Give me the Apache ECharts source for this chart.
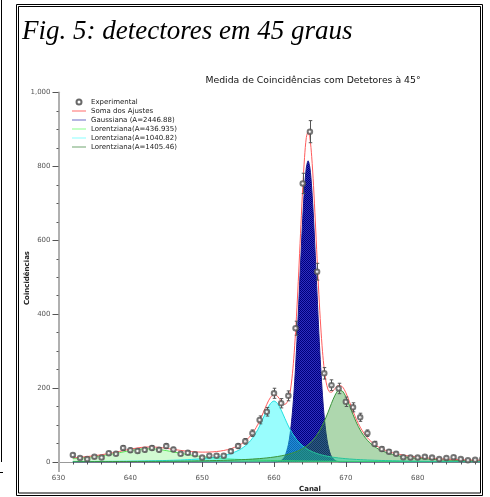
<!DOCTYPE html>
<html><head><meta charset="utf-8">
<script src="https://cdn.jsdelivr.net/npm/echarts@6/dist/echarts.min.js"></script>
<style>html,body{margin:0;padding:0;background:#fff}#c{width:490px;height:497px}</style>
</head><body><div id="c"></div>
<script>
// ---- Experimental data (canal, contagens, erro) ----
const channels = [632,633,634,635,636,637,638,639,640,641,642,643,644,645,646,647,648,649,650,651,652,653,654,655,656,657,658,659,660,661,662,663,664,665,666,667,668,669,670,671,672,673,674,675,676,677,678,679,680,681,682,683,684,685,686,687,688,689];
const counts = [19,11,8,14,12,24,22,38,32,30,33,38,33,43,34,22,25,21,12,17,17,17,29,43,56,78,114,136,186,159,179,362,754,894,515,240,208,199,163,148,121,78,49,35,28,22,13,12,12,14,12,8,11,13,8,5,6,8];
const countErr = [4.4,3.3,2.8,3.7,3.5,4.9,4.7,6.2,5.7,5.5,5.7,6.2,5.7,6.6,5.8,4.7,5,4.6,3.5,4.1,4.1,4.1,5.4,6.6,7.5,8.8,10.7,11.7,13.6,12.6,13.4,19,27.5,29.9,22.7,15.5,14.4,14.1,12.8,12.2,11,8.8,7,5.9,5.3,4.7,3.6,3.5,3.5,3.7,3.5,2.8,3.3,3.6,2.8,2.2,2.4,2.8];

// ---- Lorentzian components ----
const curveX = [632,633,634,635,636,637,638,639,640,641,642,643,644,645,646,647,648,649,650,651,652,653,654,
  655,655.5,656,656.5,657,657.5,658,658.5,659,659.5,660,660.5,661,661.5,662,662.5,663,663.5,664,664.5,665,665.5,666,666.5,667,667.5,668,668.5,669,669.5,670,670.5,671,671.5,672,672.5,673,673.5,674,674.5,675,
  676,677,678,679,680,681,682,683,684,685,686,687,688,689];
const lorentzA = [9.23,10.67,12.41,14.51,17.05,20.04,23.49,27.22,30.92,33.99,35.76,35.76,33.99,30.92,27.22,23.49,20.04,17.05,14.51,12.41,10.67,9.23,8.04,
  7.04,6.61,6.21,5.85,5.51,5.20,4.92,4.65,4.41,4.18,3.97,3.78,3.60,3.43,3.27,3.12,2.99,2.86,2.73,2.62,2.51,2.41,2.32,2.23,2.14,2.06,1.99,1.92,1.85,1.78,1.72,1.66,1.61,1.56,1.51,1.46,1.41,1.37,1.33,1.29,1.25,
  1.18,1.11,1.05,1.00,0.95,0.90,0.86,0.82,0.78,0.74,0.71,0.68,0.65,0.62];
const lorentzB = [1.20,1.29,1.39,1.51,1.63,1.78,1.94,2.13,2.34,2.59,2.88,3.22,3.63,4.12,4.71,5.44,6.35,7.50,8.99,10.95,13.62,17.36,22.76,
  30.90,36.54,43.68,52.77,64.39,79.13,97.38,118.65,140.59,158.14,165,158.14,140.59,118.65,97.38,79.13,64.39,52.77,43.68,36.54,30.90,26.39,22.76,19.80,17.36,15.33,13.62,12.18,10.95,9.90,8.99,8.19,7.50,6.89,6.35,5.87,5.44,5.06,4.71,4.40,4.12,
  3.63,3.22,2.88,2.59,2.34,2.13,1.94,1.78,1.63,1.51,1.39,1.29,1.20,1.12];
const lorentzC = [0.88,0.93,0.98,1.04,1.10,1.17,1.24,1.33,1.42,1.52,1.63,1.76,1.90,2.06,2.24,2.44,2.68,2.94,3.25,3.61,4.03,4.54,5.14,
  5.86,6.28,6.75,7.27,7.86,8.51,9.26,10.09,11.05,12.15,13.41,14.87,16.58,18.60,20.98,23.83,27.27,31.46,36.61,43.00,51.02,61.12,73.91,90.01,109.90,133.34,158.48,180.82,193.76,192.23,176.89,153.49,128.42,105.61,86.50,71.11,58.91,49.26,41.61,35.49,30.55,
  23.22,18.17,14.56,11.91,9.92,8.38,7.17,6.20,5.41,4.76,4.22,3.77,3.39,3.06];

// ---- Gaussian component ----
const gaussX = [632,659,660,660.5,661,661.5,662,662.25,662.5,662.75,663,663.25,663.5,663.75,664,664.25,664.5,664.75,665,665.25,665.5,665.75,666,666.25,666.5,666.75,667,667.25,667.5,667.75,668,668.5,669,669.5,670,689];
const gaussY = [0,0,0.16,0.88,4.0,15.0,46.7,76.7,120.2,179.6,256.0,348.1,451.4,558.4,658.8,741.5,795.9,815,795.9,741.5,658.8,558.4,451.4,348.1,256.0,179.6,120.2,76.7,46.7,27.1,15.0,4.0,0.88,0.16,0.02,0];

// ---- Sum of fits ----
const sumX = [632,633,634,635,636,637,638,639,640,641,642,643,644,645,646,647,648,649,650,651,652,653,654,
  655,655.5,656,656.5,657,657.5,658,658.5,659,659.5,660,660.5,661,661.5,662,
  662.25,662.5,662.75,663,663.25,663.5,663.75,664,664.25,664.5,664.75,665,665.25,665.5,665.75,666,666.25,666.5,666.75,667,667.25,667.5,667.75,
  668,668.5,669,669.5,670,670.5,671,671.5,672,672.5,673,673.5,674,674.5,675,
  676,677,678,679,680,681,682,683,684,685,686,687,688,689];
const sumY = [11.31,12.89,14.78,17.06,19.78,22.99,26.67,30.68,34.68,38.10,40.27,40.74,39.52,37.10,34.17,31.37,29.07,27.49,26.75,26.97,28.32,31.13,35.94,
  43.80,49.43,56.64,65.89,77.76,92.84,111.56,133.39,156.05,174.47,182.54,177.67,164.77,155.68,168.33,
  190.06,226.28,279.46,350.65,438.51,538.49,643.05,741.82,823.69,878.06,893.5,876.5,826.26,748.72,652.39,550.39,453.09,368.04,299.77,249.60,216.34,197.43,189.48,
  189.09,198.92,207.44,204.07,187.62,163.34,137.53,114.06,94.36,78.44,65.76,55.69,47.65,41.18,35.92,
  28.03,22.50,18.49,15.50,13.21,11.41,9.97,8.80,7.82,7.01,6.32,5.74,5.24,4.80];

const seriesNames = ['Experimental','Soma dos Ajustes','Gaussiana (A=2446.88)','Lorentziana(A=436.935)','Lorentziana(A=1040.82)','Lorentziana(A=1405.46)'];
const yTicks = [0,200,400,600,800,1000];
const xTicks = [630,640,650,660,670,680,690];

const FONT = 'DejaVu Sans';
function checker(a, b) {
  const c = document.createElement('canvas'); c.width = 2; c.height = 2;
  const g = c.getContext('2d');
  g.fillStyle = b; g.fillRect(0,0,2,2);
  g.fillStyle = a; g.fillRect(0,0,1,1); g.fillRect(1,1,1,1);
  return { image: c, repeat: 'repeat' };
}
const pair = (xs, ys) => xs.map((x,i)=>[x, ys[i]]);
const LINE_ICON = 'path://M0 0H14V1H0Z';

const chart = echarts.init(document.getElementById('c'), null, {renderer:'canvas'});
chart.setOption({
  animation: false,
  backgroundColor: '#fff',
  grid: { left: 58.5, right: 0.5, top: 92.5, bottom: 35, containLabel: false },
  xAxis: {
    type: 'value', min: xTicks[0], max: xTicks[xTicks.length-1], interval: 10, offset: 7,
    axisLine: { show: true, lineStyle: { color: '#999', width: 1 } },
    axisTick: { show: true, length: 5, lineStyle: { color: '#555' } },
    minorTick: { show: true, splitNumber: 5, length: 2.5, lineStyle: { color: '#555' } },
    splitLine: { show: false },
    axisLabel: { margin: 6, fontSize: 7, fontFamily: FONT, color: '#555', showMaxLabel: false }
  },
  yAxis: {
    type: 'value', min: yTicks[0], max: yTicks[yTicks.length-1], interval: 200,
    axisLine: { show: true, lineStyle: { color: '#b0b0b0', width: 2 } },
    axisTick: { show: true, length: 6, lineStyle: { color: '#555' } },
    minorTick: { show: true, splitNumber: 4, length: 2, lineStyle: { color: '#555' } },
    splitLine: { show: false },
    axisLabel: { margin: 8, fontSize: 7, fontFamily: FONT, color: '#555',
      formatter: v => v >= 1000 ? Math.floor(v/1000) + ',' + String(v%1000).padStart(3,'0') : String(v) }
  },
  legend: {
    orient: 'vertical', left: 72, top: 97.5, padding: 0, itemGap: 0,
    itemWidth: 14, itemHeight: 5,
    textStyle: { fontSize: 7, fontFamily: FONT, color: '#222', lineHeight: 9 },
    data: [
      { name: seriesNames[0], icon: 'emptyCircle', itemStyle: { color: '#444', borderColor: '#444', borderWidth: 1 } },
      { name: seriesNames[1], icon: LINE_ICON, itemStyle: { color: '#ff6a6a', borderWidth: 0 } },
      { name: seriesNames[2], icon: LINE_ICON, itemStyle: { color: '#6a6ac4', borderWidth: 0 } },
      { name: seriesNames[3], icon: LINE_ICON, itemStyle: { color: '#88ff88', borderWidth: 0 } },
      { name: seriesNames[4], icon: LINE_ICON, itemStyle: { color: '#88ffff', borderWidth: 0 } },
      { name: seriesNames[5], icon: LINE_ICON, itemStyle: { color: '#6fa56f', borderWidth: 0 } }
    ]
  },
  series: [
    { name: seriesNames[0], type: 'scatter', data: pair(channels, counts), symbol: 'emptyCircle', symbolSize: 4.5,
      itemStyle: { color: '#555', borderWidth: 0.8 }, z: 10 },
    { name: seriesNames[1], type: 'line', data: pair(sumX, sumY), symbol: 'none', smooth: 0.3,
      lineStyle: { color: '#ff5c5c', width: 1 }, itemStyle: { color: '#ff5c5c' }, z: 8 },
    { name: seriesNames[2], type: 'line', data: pair(gaussX, gaussY), symbol: 'none', smooth: 0.3,
      lineStyle: { color: '#14148a', width: 1 }, itemStyle: { color: '#6a6ac4' },
      areaStyle: { color: checker('#00007a', '#2e2ec0'), opacity: 1 }, z: 2 },
    { name: seriesNames[3], type: 'line', data: pair(curveX, lorentzA), symbol: 'none', smooth: 0.3,
      lineStyle: { color: '#55e855', width: 1 }, itemStyle: { color: '#88ff88' },
      areaStyle: { color: 'rgba(110,240,110,0.45)' }, z: 3 },
    { name: seriesNames[4], type: 'line', data: pair(curveX, lorentzB), symbol: 'none', smooth: 0.3,
      lineStyle: { color: '#22e0e0', width: 1 }, itemStyle: { color: '#88ffff' },
      areaStyle: { color: 'rgba(20,250,250,0.62)' }, z: 4 },
    { name: seriesNames[5], type: 'line', data: pair(curveX, lorentzC), symbol: 'none', smooth: 0.3,
      lineStyle: { color: '#3a943a', width: 1 }, itemStyle: { color: '#6fa56f' },
      areaStyle: { color: 'rgba(45,150,45,0.55)' }, z: 5 },
    { name: 'erro', type: 'custom', z: 9,
      data: channels.map((x,i)=>[x, counts[i], countErr[i]]),
      encode: { x: 0, y: 1 },
      renderItem: function (params, api) {
        const x = api.value(0), y = api.value(1), e = api.value(2);
        const top = api.coord([x, y + e]), bot = api.coord([x, y - e]);
        const st = { stroke: '#555', lineWidth: 1 };
        const cx = Math.round(top[0]) + 0.5;
        return { type: 'group', children: [
          { type: 'line', shape: { x1: cx, y1: top[1], x2: cx, y2: bot[1] }, style: st },
          { type: 'line', shape: { x1: cx-1.75, y1: top[1], x2: cx+1.75, y2: top[1] }, style: st },
          { type: 'line', shape: { x1: cx-1.75, y1: bot[1], x2: cx+1.75, y2: bot[1] }, style: st }
        ]};
      }
    }
  ],
  graphic: { elements: [
    { type: 'line', z: 50, shape: { x1: 59, y1: 462, x2: 59, y2: 472 }, style: { stroke: '#b0b0b0', lineWidth: 2 } },
    { type: 'text', z: 50, x: 313, y: 80.5, style: { text: 'Medida de Coincidências com Detetores à 45°', font: '9.3px "DejaVu Sans"', fill: '#111', textAlign: 'center', textVerticalAlign: 'middle' } },
    { type: 'text', z: 50, x: 310, y: 489.5, style: { text: 'Canal', font: 'bold 7px "DejaVu Sans"', fill: '#222', textAlign: 'center', textVerticalAlign: 'middle' } },
    { type: 'text', z: 50, x: 27, y: 278, rotation: Math.PI/2, style: { text: 'Coincidências', font: 'bold 7px "DejaVu Sans"', fill: '#222', textAlign: 'center', textVerticalAlign: 'middle' } },
    { type: 'rect', z: 90, shape: { x: 481, y: 0, width: 9, height: 497 }, style: { fill: '#fff' } },
    { type: 'text', z: 95, x: 22, y: 31.5, style: { text: 'Fig. 5: detectores em 45 graus', font: 'italic 27px "Liberation Serif"', fill: '#000', textAlign: 'left', textVerticalAlign: 'middle' } },
    { type: 'rect', z: 100, shape: { x: 16.5, y: 4.5, width: 466, height: 491 }, style: { fill: 'none', stroke: '#000', lineWidth: 1 } },
    { type: 'rect', z: 100, shape: { x: 18.5, y: 6.5, width: 462, height: 486.5 }, style: { fill: 'none', stroke: '#000', lineWidth: 1 } },
    { type: 'line', z: 100, shape: { x1: 1.5, y1: 0, x2: 1.5, y2: 462 }, style: { stroke: '#000', lineWidth: 1 } },
    { type: 'line', z: 100, shape: { x1: 0, y1: 472.5, x2: 3, y2: 472.5 }, style: { stroke: '#000', lineWidth: 1 } }
  ]}
});
</script></body></html>
